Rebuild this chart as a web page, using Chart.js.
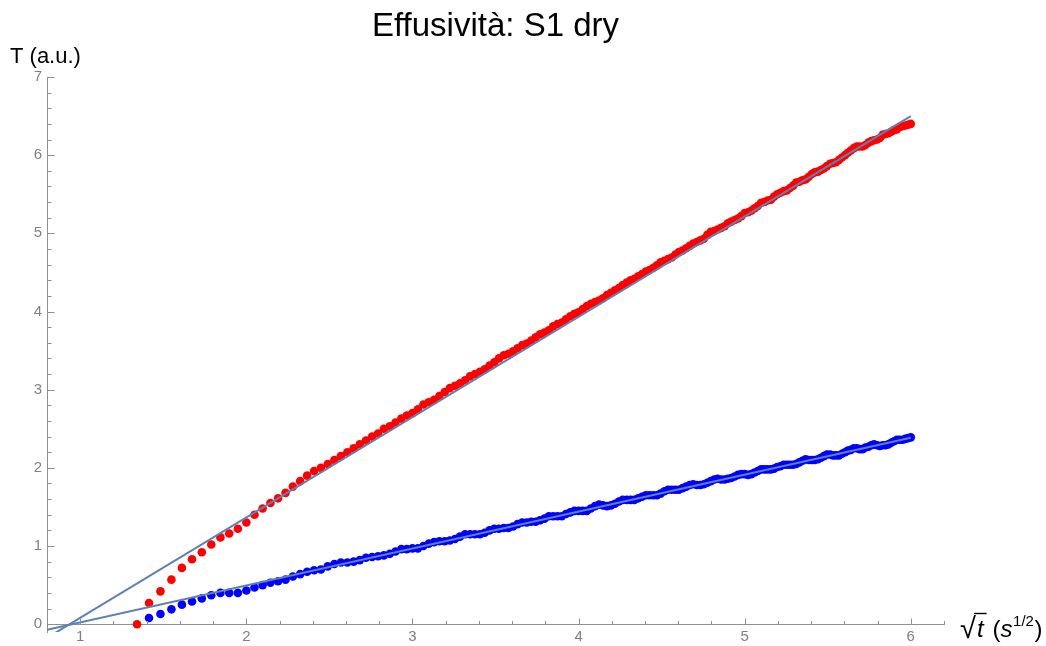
<!DOCTYPE html>
<html><head><meta charset="utf-8">
<script src="https://cdn.jsdelivr.net/npm/chart.js@4.4.0/dist/chart.umd.min.js"></script>
<style>html,body{margin:0;padding:0;background:#fff;}canvas{display:block;}</style>
</head><body>
<canvas id="c" width="1046" height="646"></canvas>
<script>
// sqrt(t) sample positions (s^1/2)
const sqrtT = [1.342,1.414,1.483,1.549,1.612,1.673,1.732,1.789,1.844,1.897,1.949,2.000,2.049,2.098,2.145,2.191,2.236,2.280,2.324,2.366,2.408,2.449,2.490,2.530,2.569,2.608,2.646,2.683,2.720,2.757,2.793,2.828,2.864,2.898,2.933,2.966,3.000,3.033,3.066,3.098,3.130,3.162,3.194,3.225,3.256,3.286,3.317,3.347,3.376,3.406,3.435,3.464,3.493,3.521,3.550,3.578,3.606,3.633,3.661,3.688,3.715,3.742,3.768,3.795,3.821,3.847,3.873,3.899,3.924,3.950,3.975,4.000,4.025,4.050,4.074,4.099,4.123,4.147,4.171,4.195,4.219,4.243,4.266,4.290,4.313,4.336,4.359,4.382,4.405,4.427,4.450,4.472,4.494,4.517,4.539,4.561,4.583,4.604,4.626,4.648,4.669,4.690,4.712,4.733,4.754,4.775,4.796,4.817,4.837,4.858,4.879,4.899,4.919,4.940,4.960,4.980,5.000,5.020,5.040,5.060,5.079,5.099,5.119,5.138,5.158,5.177,5.196,5.215,5.235,5.254,5.273,5.292,5.310,5.329,5.348,5.367,5.385,5.404,5.422,5.441,5.459,5.477,5.495,5.514,5.532,5.550,5.568,5.586,5.604,5.621,5.639,5.657,5.675,5.692,5.710,5.727,5.745,5.762,5.779,5.797,5.814,5.831,5.848,5.865,5.882,5.899,5.916,5.933,5.950,5.967,5.983,6.000];
// red series T (a.u.)
const redT = [0.00,0.27,0.42,0.57,0.72,0.83,0.92,1.02,1.11,1.16,1.22,1.30,1.40,1.48,1.55,1.61,1.68,1.76,1.83,1.90,1.96,2.00,2.05,2.10,2.15,2.20,2.25,2.30,2.35,2.40,
2.44,2.50,2.53,2.58,2.63,2.67,2.70,2.75,2.81,2.84,
2.87,2.92,2.97,3.02,3.05,3.08,3.12,3.17,3.20,3.23,
3.26,3.31,3.35,3.40,3.44,3.46,3.49,3.53,3.57,3.59,
3.63,3.67,3.71,3.73,3.76,3.81,3.84,3.86,3.90,3.94,
3.97,3.99,4.03,4.07,4.10,4.12,4.14,4.17,4.21,4.24,
4.27,4.30,4.34,4.37,4.40,4.42,4.45,4.48,4.51,4.53,
4.56,4.59,4.63,4.65,4.67,4.69,4.73,4.76,4.78,4.81,
4.84,4.87,4.89,4.91,4.93,4.98,5.02,5.03,5.05,5.07,
5.09,5.13,5.15,5.17,5.19,5.22,5.26,5.27,5.29,5.32,
5.35,5.39,5.40,5.42,5.43,5.47,5.50,5.52,5.54,5.55,
5.58,5.61,5.65,5.66,5.68,5.69,5.72,5.76,5.78,5.79,
5.81,5.83,5.86,5.89,5.90,5.91,5.94,5.97,6.00,6.03,
6.06,6.09,6.11,6.11,6.11,6.13,6.16,6.18,6.19,6.20,
6.22,6.26,6.27,6.28,6.30,6.32,6.33,6.36,6.37,6.38,
6.39,6.40];
// blue series T (a.u.)
const blueT = [null,0.08,0.13,0.19,0.25,0.29,0.33,0.37,0.40,0.40,
0.40,0.43,0.47,0.50,0.53,0.55,0.57,0.61,0.64,0.67,
0.69,0.70,0.74,0.77,0.79,0.79,0.80,0.82,0.85,0.86,
0.87,0.88,0.90,0.93,0.96,0.96,0.97,0.97,1.00,1.03,
1.05,1.06,1.06,1.07,1.09,1.12,1.15,1.15,1.15,1.15,
1.17,1.20,1.22,1.22,1.23,1.23,1.25,1.28,1.30,1.30,
1.31,1.31,1.33,1.35,1.38,1.38,1.38,1.38,1.41,1.43,
1.45,1.45,1.45,1.45,1.48,1.51,1.53,1.52,1.51,1.52,
1.54,1.57,1.59,1.59,1.59,1.59,1.61,1.63,1.65,1.65,
1.65,1.65,1.67,1.70,1.72,1.72,1.72,1.72,1.74,1.76,
1.78,1.79,1.78,1.78,1.79,1.81,1.83,1.85,1.86,1.85,
1.85,1.86,1.87,1.89,1.91,1.92,1.92,1.91,1.92,1.94,
1.96,1.98,1.98,1.98,1.98,1.99,2.01,2.02,2.04,2.04,
2.04,2.04,2.05,2.07,2.09,2.11,2.10,2.10,2.10,2.11,
2.13,2.15,2.17,2.17,2.16,2.16,2.16,2.18,2.20,2.22,
2.23,2.25,2.25,2.24,2.24,2.26,2.27,2.29,2.30,2.29,
2.28,2.29,2.29,2.30,2.32,2.34,2.36,2.36,2.36,2.37,
2.38,2.39];
// linear fits (endpoints)
const fitX = [0.8, 6.0];
const redFit = [-0.175, 6.50];
const blueFit = [-0.07, 2.385];
// axes
const xTickLabels = [1,2,3,4,5,6];
const yTickLabels = [0,1,2,3,4,5,6,7];
const titleText = 'Effusività: S1 dry';
const yAxisLabel = 'T (a.u.)';

const FONT = '"Liberation Sans", Arial, sans-serif';
Chart.defaults.font.family = FONT;

const pts = (xs, ys) => xs.map((x, i) => ({x: x, y: ys[i]})).filter(p => p.y !== null);

const decor = {
  id: 'decor',
  afterDraw(chart) {
    const ctx = chart.ctx, xs = chart.scales.x, ys = chart.scales.y, a = chart.chartArea;
    ctx.save();
    ctx.strokeStyle = '#909090';
    ctx.lineWidth = 1;
    const y0 = Math.round(ys.getPixelForValue(0)) + 0.5;
    ctx.beginPath();
    for (let i = 5; i <= 31; i++) {
      const px = Math.round(xs.getPixelForValue(i / 5)) + 0.5;
      const len = (i % 5 === 0) ? 6 : 3.5;
      ctx.moveTo(px, y0); ctx.lineTo(px, y0 - len);
    }
    const lx = Math.round(a.left) + 0.5;
    for (let i = 1; i <= 35; i++) {
      const py = Math.round(ys.getPixelForValue(i / 5)) + 0.5;
      const len = (i % 5 === 0) ? 7 : 4;
      ctx.moveTo(lx, py); ctx.lineTo(lx + len, py);
    }
    ctx.stroke();

    ctx.fillStyle = '#000';
    ctx.textAlign = 'center';
    ctx.textBaseline = 'alphabetic';
    ctx.font = '33px ' + FONT;
    ctx.fillText(titleText, (a.left + a.right) / 2, 36);

    ctx.textAlign = 'left';
    ctx.font = '22px ' + FONT;
    ctx.fillText(yAxisLabel, 10, 63);

    // x axis label: sqrt(t) (s^1/2)
    const base = 637;
    let x = 960;
    ctx.font = '29px ' + FONT;
    ctx.fillText('\u221A', x, base + 1);
    const wS = ctx.measureText('\u221A').width;
    x += wS - 1;
    ctx.font = 'italic 24px ' + FONT;
    const wt = ctx.measureText('t').width;
    ctx.fillText('t', x + 2, base);
    ctx.beginPath();
    ctx.strokeStyle = '#000';
    ctx.lineWidth = 1.4;
    ctx.moveTo(x - 1, base - 23.5); ctx.lineTo(x + wt + 5, base - 23.5);
    ctx.stroke();
    x += wt + 11;
    ctx.font = '24px ' + FONT;
    ctx.fillText('(', x, base);
    x += ctx.measureText('(').width;
    ctx.font = 'italic 24px ' + FONT;
    ctx.fillText('s', x, base);
    x += ctx.measureText('s').width;
    ctx.font = '15px ' + FONT;
    ctx.fillText('1/2', x + 0.5, base - 11);
    x += ctx.measureText('1/2').width + 1;
    ctx.font = '24px ' + FONT;
    ctx.fillText(')', x, base);
    ctx.restore();
  }
};

new Chart(document.getElementById('c'), {
  type: 'scatter',
  data: {
    datasets: [
      {label: 'fit red', data: pts(fitX, redFit), showLine: true, borderColor: '#5E81B5', borderWidth: 2, pointRadius: 0, order: 0},
      {label: 'fit blue', data: pts(fitX, blueFit), showLine: true, borderColor: '#5E81B5', borderWidth: 2, pointRadius: 0, order: 1},
      {label: 'red', data: pts(sqrtT, redT), backgroundColor: '#FF0000', borderWidth: 0, pointRadius: 4.3, order: 2},
      {label: 'blue', data: pts(sqrtT, blueT), backgroundColor: '#0000FF', borderWidth: 0, pointRadius: 4.3, order: 3}
    ]
  },
  options: {
    responsive: false,
    animation: false,
    layout: {padding: {top: 77, right: 102, bottom: 13, left: 0}},
    plugins: {legend: {display: false}, tooltip: {enabled: false}, title: {display: false}},
    scales: {
      x: {
        type: 'linear', min: 0.8, max: 6.2, position: {y: 0},
        grid: {display: false, drawTicks: false},
        border: {display: true, color: '#909090', width: 1},
        ticks: {color: '#808080', font: {size: 15}, padding: 4, maxRotation: 0},
        afterBuildTicks: s => { s.ticks = xTickLabels.map(v => ({value: v})); }
      },
      y: {
        type: 'linear', min: -0.1, max: 7, position: 'left',
        grid: {display: false, drawTicks: false},
        border: {display: true, color: '#909090', width: 1},
        ticks: {color: '#808080', font: {size: 15}, padding: 5},
        afterBuildTicks: s => { s.ticks = yTickLabels.map(v => ({value: v})); },
        afterFit: s => { s.width = 47; }
      }
    }
  },
  plugins: [decor]
});
</script>
</body></html>
